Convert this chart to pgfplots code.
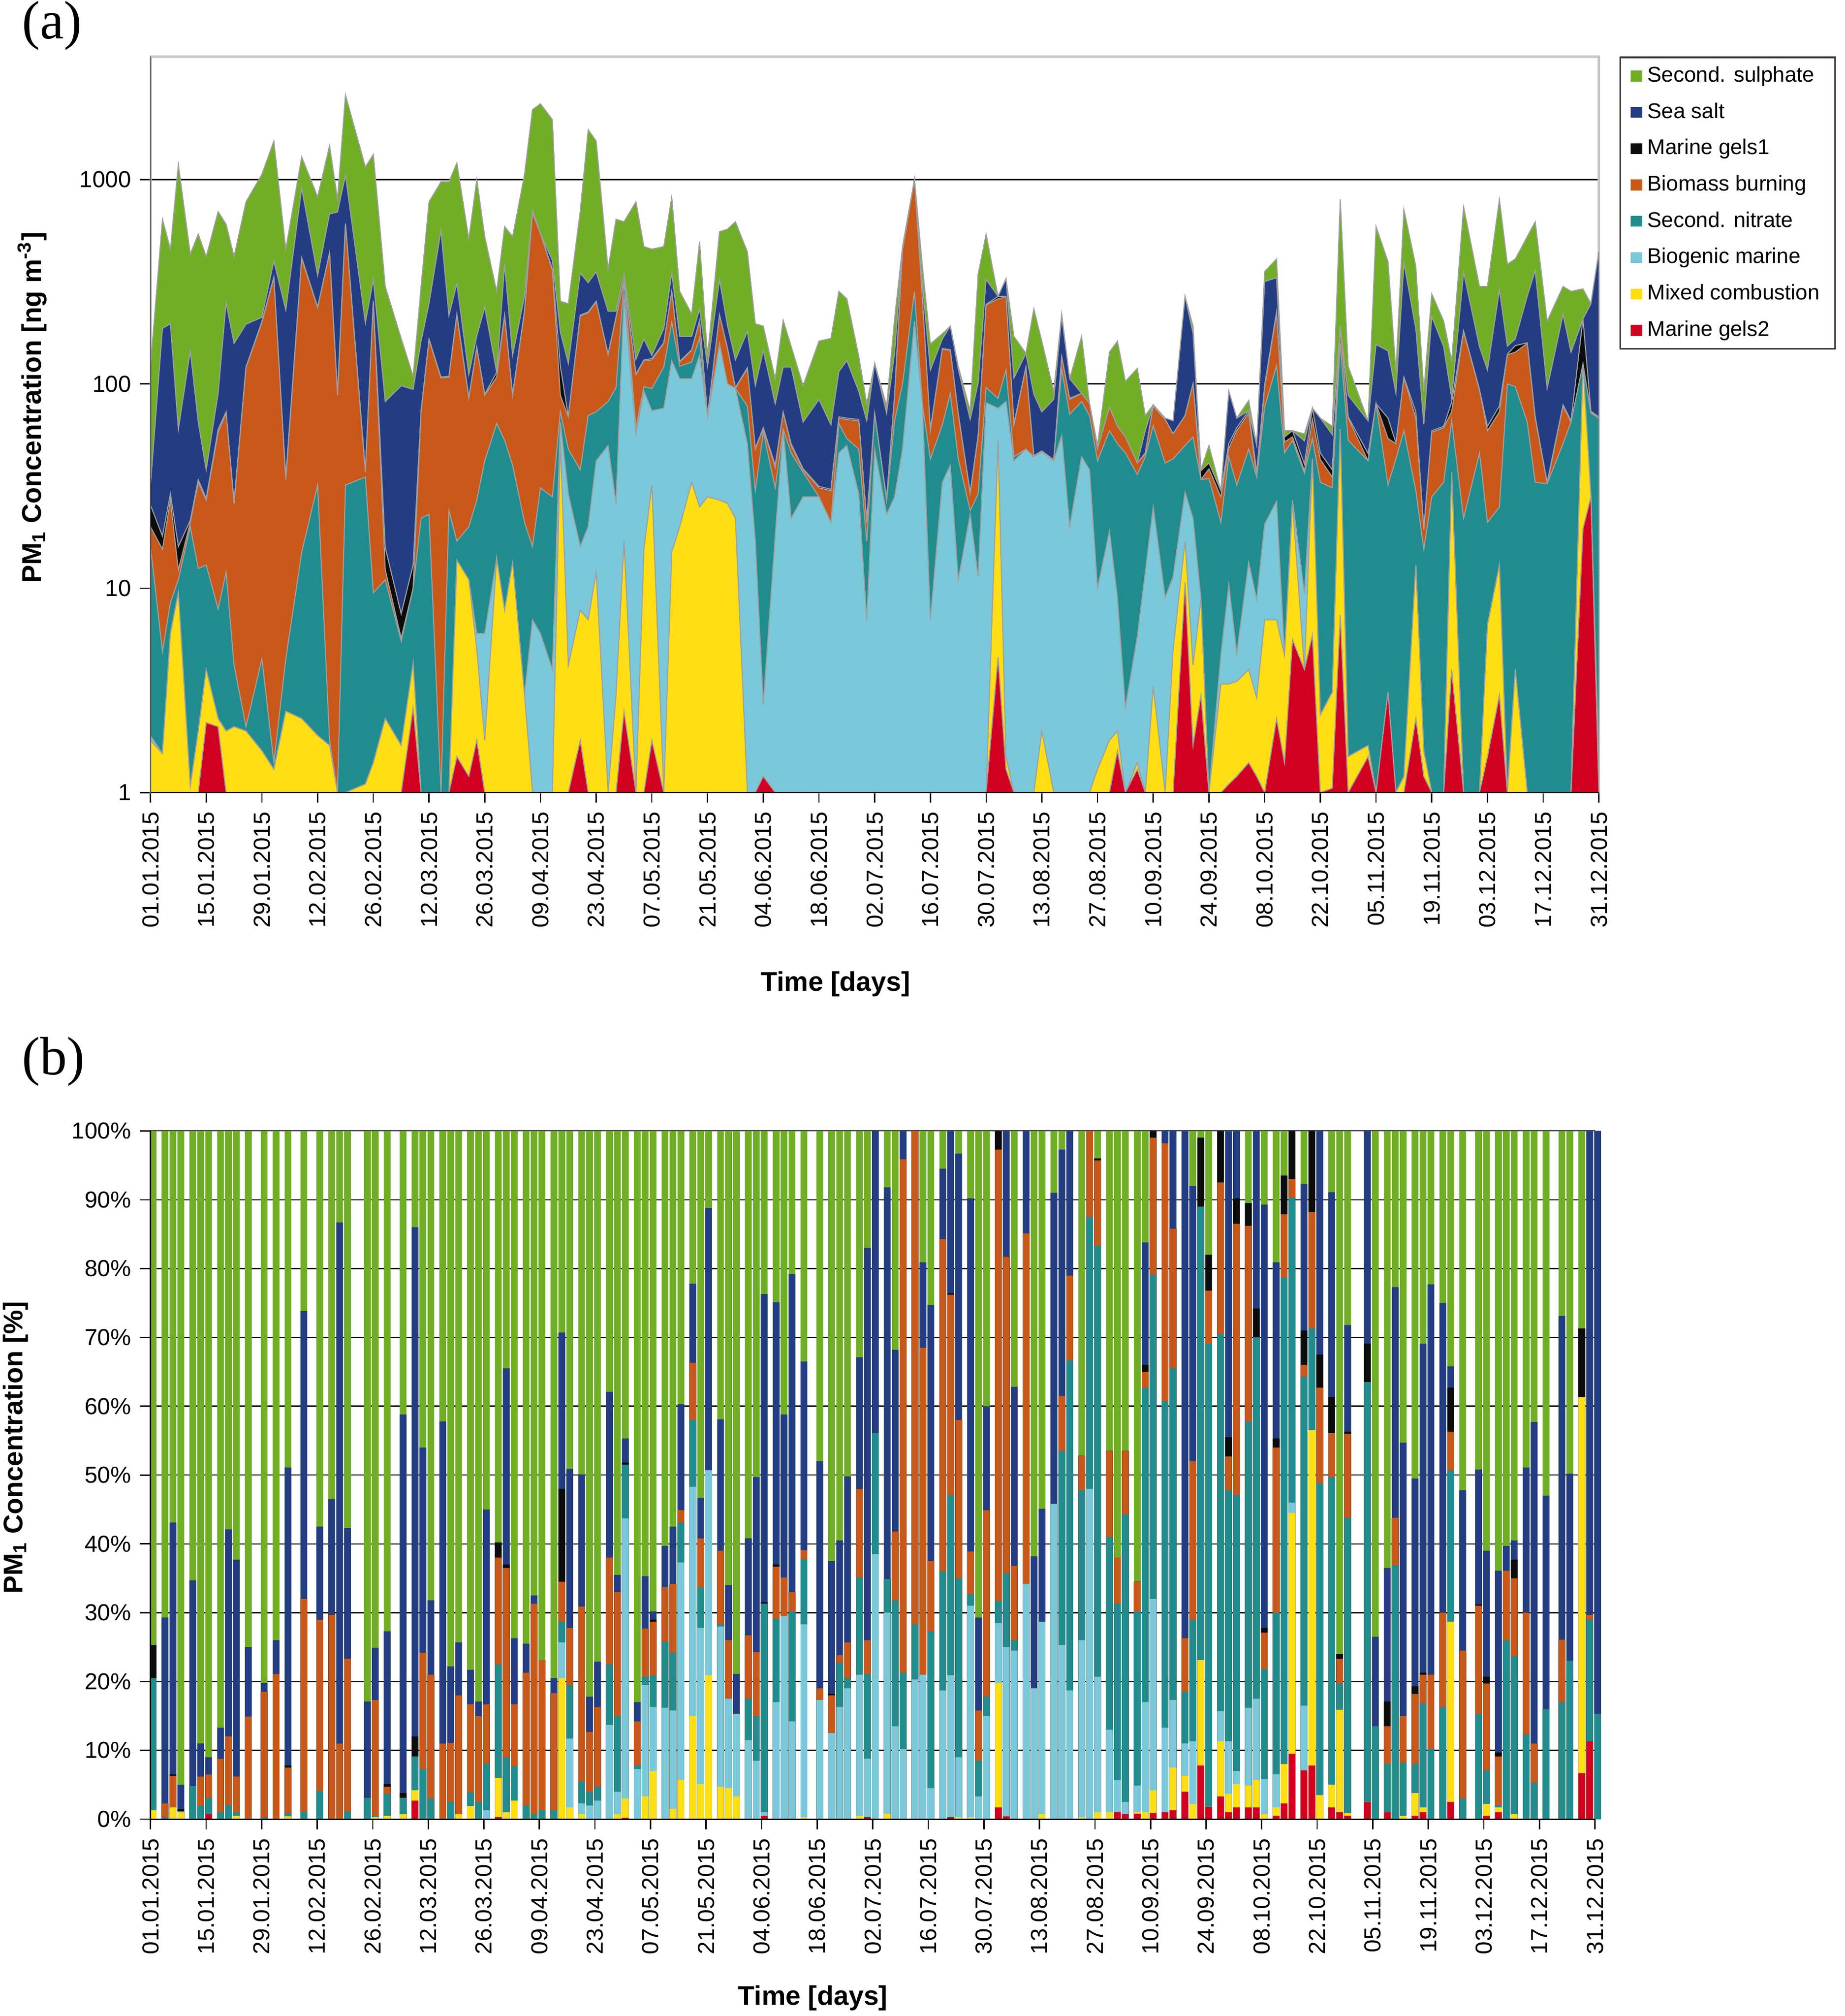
\documentclass[border=0pt]{standalone}
\usepackage{pgfplots}
\pgfplotsset{compat=1.18}
\usepackage{pgfplotstable}
\usepackage{fontspec}
\setmainfont{Liberation Sans}
\newfontfamily\serifpanel{Liberation Serif}

\definecolor{cSul}{RGB}{112,174,38}
\definecolor{cSea}{RGB}{35,60,130}
\definecolor{cGelA}{RGB}{12,12,12}
\definecolor{cBio}{RGB}{200,88,26}
\definecolor{cNit}{RGB}{32,140,142}
\definecolor{cMar}{RGB}{122,200,218}
\definecolor{cMix}{RGB}{255,222,20}
\definecolor{cGelB}{RGB}{210,0,32}

% (a) cumulative boundaries in ng m^-3 (bottom to top)
\pgfplotstableread{
d R Y L T O K B G
0 1 1.8 1.9 16 20 25.5 32 122
3 1 1.55 1.55 4.9 15.5 18 187 640
5 1 6 6 8.5 27 29 197 457
7 1 9.5 9.5 11 12.3 16 60 1186
10 1 1.07 1.07 20 21 21.5 145 432
12 1 2 2 12.5 33 34 65 541
14 2.2 4 4 13 27 27.5 38 420
17 2.1 2.3 2.3 7.9 58 60 90 697
19 1 2 2 12 72 73 250 605
21 1 2.1 2.1 4.2 26 26.5 158 420
24 1 2 2 2.1 120 121 196 779
28 1 1.6 1.6 4.5 200 202 212 1061
31 1 1.3 1.3 1.4 330 333 400 1545
34 1 2.5 2.5 4.5 34 35 230 457
38 1 2.3 2.3 15 410 415 910 1291
42 1 1.9 1.9 32 236 238 340 824
45 1 1.7 1.7 1.8 434 438 680 1468
47 1 1 1 1 88 90 694 801
49 1 1 1 32 600 610 1050 2600
54 1 1.1 1.1 35 37 38 199 1153
56 1 1.4 1.4 9.5 250 255 325 1327
59 1 2.3 2.3 11 12.3 15.8 82 300
63 1 1.7 1.7 5.5 5.7 7.5 98 167
66 2.6 4.3 4.3 10 10 13 94 109
68 1 1 1 22 73 74 162 300
70 1 1 1 23 164 166 248 779
73 1 1 1 1 107 108 564 975
75 1 1 1 24 108 109 216 975
77 1.5 13.7 13.7 17 217 220 310 1207
80 1.2 11 11 20 85 86 111 512
82 1.8 5 6 27 150 151 172 1003
84 1 1.8 6 42 88 89 237 526
87 1 14 14 64 108 114 114 284
89 1 7.8 7.8 53 215 217 386 589
91 1 13.3 13.3 40 88 89 138 526
94 1 3 3 21 226 228 270 1061
96 1 1 7 16 688 692 714 2198
98 1 1 6 31 543 545 545 2350
101 1 1 4 28 360 365 403 1967
103 1 52 65 73 88 122 180 254
105 1 4.2 29 48 69 69.5 126 247
108 1.8 7.8 16 38 215 217 349 700
110 1 7 20 70 223 225 313 1757
112 1 12 42 73 252 254 354 1545
115 1 1 50 82 139 140 227 365
117 1 3 26 96 211 213 227 640
119 2.5 17 272 320 320 322 344 622
122 1 1 57 61 111 112 132 779
124 1 15.5 92 97 130 131 166 470
126 1.8 32 74 95 131 133 138 457
129 1 1 76 121 158 159 187 470
131 1 15 130 200 282 284 350 824
133 1 20 106 122 128 129 171 284
136 1 33 106 128 146 147 171 220
138 1 25 138 168 203 204 233 498
140 1 28 69 69 69 70 122 137
143 1 27 156 157 217 218 323 556
145 1 26 100 100 149 150 194 572
147 1 22 95 95 95 96 131 622
150 1 1 51 78 119 120 181 444
152 1 1 17 30 48 48.5 98 197
154 1.2 1.2 2.7 58 60 61 146 192
157 1 1 18 31 39 40 80 106
159 1 1 60 60 72 73 121 205
161 1 1 22 46 50 51 121 153
164 1 1 28 37 38 38.5 65 98
168 1 1 28 28 31 31.5 84 162
171 1 1 21 21 30 30.5 63 167
173 1 1 46 64 68 69 115 284
175 1 1 50 54 67 68 130 261
178 1 1 29 48 66 67 92 137
180 1 1 7 17 21 21.5 66 80
182 1 1 48 71 71 71.5 126 126
185 1 1 23 27 27 27.5 72 78
187 1 1 28 66 87 88 142 208
189 1 1 48 100 451 455 470 470
192 1 1 203 283 1000 1000 1000 1000
194 1 1 79 79 258 260 304 376
196 1 1 7 43 59 60 117 157
199 1 1 33 63 148 149 166 176
201 1 1 40 90 146 147 192 192
203 1 1 11 43 71 72 118 122
206 1 1 23 24 29 29.5 67 74
208 1 1 11.4 29 55 56 101 345
210 1 1 81 96 243 245 325 541
213 4.6 53 76 85 261 268 268 268
215 1.3 1.5 82 117 267 268 327 327
217 1 1 42 44 63 64 107 171
220 1 1 48 48 120 121 141 141
222 1 1 44 44 44 44.5 89 233
224 1 2 46.5 46.5 46.5 47 73 162
227 1 1 42 42 42 42.5 84 92
229 1 1 56 118 135 136 214 220
231 1 1 20 71 84 85 106 106
234 1 1 44 82 90 90 90 171
236 1 1 38 70 80 80 80 80
238 1 1.3 10 42 48 48 48 50
241 1 1.8 19 59 77 77 77 143
243 1.6 2 9 51 62 62 62 162
245 1 1 2.6 46 55 55 55 103
248 1.3 1.4 5.8 36 41 41 41 119
250 1 1 12 44 45.5 46 59 70
252 1 3.3 25 62.5 78 79 79 79
255 1 1 9 41 67 67 68 68
257 1 5 11.4 43 57 57 66 66
260 10.7 17 29.5 50 70 70 268 268
262 1.7 4.2 22 55 100 100 177 192
264 3 8.8 8.8 34 34 37.6 37.6 38
266 1 1 1 34.5 38.4 41 41 50
269 1 3.4 4.7 21 28 30 30 30
271 1.1 3.4 10.4 44 48.5 51 92 92
273 1.2 3.5 4.8 32 59 61 68 68
276 1.4 4 13.4 48 72 74 74 83
278 1.2 2.9 8.8 35 35 37 50 50
280 1 7 20.6 77 96 99 317 355
283 2.3 7 26.6 123 221 226 331 409
285 1.4 4.7 4.7 46 52 55 55 59
287 5.6 26 27 53 55 59 59 59
290 4 4 9.4 36.6 37.6 40.5 52.6 57
292 5.9 43 43 54 67 76 76 76
294 1 2.4 2.4 33 42.6 45.9 68 68
297 1.05 3.1 3.1 31 35 38 56.5 62
299 7.4 60 60 158 187 192 192 801
301 1 1.5 1.5 53 68 69 88 122
306 1.5 1.7 1.7 42 42 45.6 66 66
308 1 1 1 80 80 80 156 589
311 3.1 3.1 3.1 32 54 68 145 397
313 1 1 1 43 51 51.5 90 116
315 1 1.2 1.2 59 107 108 392 716
318 2.3 13 13 30 68 73 186 376
320 1.2 1.6 1.6 15.5 19.3 19.6 63.6 92
322 1 1 1 28 58 59 214 276
325 1 1 1 33 61 62 152 203
327 4 37 37 66 73 81.5 85.5 130
330 1 1 1 22 180 182 352 736
334 1 1 1 46 93 94 152 300
336 1.5 6.6 6.6 21 59 62 117 300
339 3 13 13 25 73 78 289 801
341 1 1 1 100 139 140 153 386
343 1 4 4 97 143 154 166 409
346 1 1 1 65 158 159 269 526
348 1 1 1 33 68 69 359 622
351 1 1 1 32.5 32.5 33 95 203
355 1 1 1 51 78 79 219 300
357 1 1 1 65 65 66 143 284
360 19.6 125 125 125 125 208 208 292
362 28 28 28 72 73 73.5 247 247
364 1 1.4 1.4 68 68 69 444 444
}\dataA

% (b) cumulative percentages (bottom to top)
\pgfplotstableread{
d r y l t o k b g
0 0 1.3 1.3 20.5 20.5 25.3 25.3 100
3 0 0 0 0.3 2.3 2.3 29.3 100
5 0 1.7 1.7 1.7 6.3 6.5 43.1 100
7 0 1 1 1.2 1.2 1.5 5 100
10 0 0 0 4.8 4.8 4.8 34.7 100
12 0 0 0 2 6.2 6.2 11 100
14 0.7 0.7 0.7 3.1 6.5 6.5 9 100
17 0 0 0 1 8.8 8.8 13.3 100
19 0 0 0 2 12 12 42.1 100
21 0 0.5 0.5 1 6.2 6.2 37.7 100
24 0 0 0 0 14.9 14.9 25 100
28 0 0 0 0.3 18.5 18.5 19.8 100
31 0 0 0 0 21.1 21.1 26 100
34 0 0.4 0.4 0.9 7.5 7.8 51.1 100
38 0 0 0 1.1 32 32 73.8 100
42 0 0 0 4.1 29 29 42.5 100
45 0 0 0 0 29.7 29.7 46.5 100
47 0 0 0 0 11 11 86.7 100
49 0 0 0 1.1 23.3 23.3 42.3 100
54 0 0 0 3.1 3.1 3.1 17.1 100
56 0 0.3 0.3 0.5 17.3 17.3 24.9 100
59 0 0.5 0.5 3.7 4.7 5.1 27.3 100
63 0 0.7 0.7 3.1 3.1 3.8 58.8 100
66 2.7 4.2 4.2 9.1 9.1 12 86 100
68 0 0 0 7.3 24.2 24.2 54 100
70 0 0 0 3 21 21 31.8 100
73 0 0 0 0 11 11 57.8 100
75 0 0 0 2.5 11.1 11.1 22.2 100
77 0 0.7 0.7 0.7 18 18 25.7 100
80 0 1.9 1.9 3.9 16.7 16.7 21.7 100
82 0 0 0 2.5 15 15 17.1 100
84 0 0 1.3 8 16.7 16.7 45 100
87 0.3 6 6 22.5 38 40.2 40.2 100
89 0 1 1 9 36.5 37 65.5 100
91 0 2.7 2.7 7.7 16.7 16.7 26.3 100
94 0 0 0 2 21.3 21.3 25.5 100
96 0 0 0 0.7 31.3 31.3 32.5 100
98 0 0 0 1.3 23.1 23.1 23.1 100
101 0 0 0 1.3 18.3 18.3 20.5 100
103 0 20.5 25.7 28.7 34.5 48 70.7 100
105 0 1.7 11.7 19.5 27.8 27.8 50.9 100
108 0 0.7 2.3 5.5 30.9 30.9 50.1 100
110 0 0 2 4 12.7 12.7 17.8 100
112 0 0 2.7 4.7 16.3 16.3 22.9 100
115 0 0 13.7 22.5 38 38 62.1 100
117 0 0.7 4 15 33 33 35.5 100
119 0.2 3 43.7 51.5 51.5 51.8 55.3 100
122 0 0 7.3 7.8 14.2 14.2 17 100
124 0 3.3 19.5 20.7 27.7 27.7 35.3 100
126 0 7 16.3 20.9 28.7 29 30.2 100
129 0 0 16.2 25.8 33.7 33.7 39.7 100
131 0 1.5 15.8 24.2 34.2 34.2 42.5 100
133 0 5.7 37.3 43.1 44.9 44.9 60.3 100
136 0 15 48.3 58 66.3 66.3 77.8 100
138 0 5.1 27.8 33.7 40.8 40.8 46.7 100
140 0 20.9 50.7 50.7 50.7 50.7 88.8 100
143 0 4.7 28 28.3 39 39 58.1 100
145 0 4.5 17.5 17.5 26 26 34 100
147 0 3.3 15.3 15.3 15.3 15.3 21.1 100
150 0 0 11.5 17.5 26.7 26.7 40.8 100
152 0 0 8.5 15 24.3 24.3 49.7 100
154 0.5 0.5 1 31.3 31.3 31.5 76.3 100
157 0 0 17 29.1 36.7 37 75.1 100
159 0 0 29.5 29.5 35.1 35.1 58.8 100
161 0 0 14.2 30.2 33 33 79.2 100
164 0 0.3 28.3 37.8 39.1 39.1 66.5 100
168 0 0 17.3 17.3 19 19 52 100
171 0 0 12.5 12.5 18 18.2 37.5 100
173 0 0 16.3 22.7 23.8 23.8 40.5 100
175 0 0 19 20.5 25.7 25.7 49.8 100
178 0 0.5 21 35.1 48 48 67.1 100
180 0.3 0.3 8.8 21.1 26 26 83 100
182 0 0 38.5 56.1 56.1 56.1 100 100
185 0 0.8 30 34.9 34.9 34.9 91.8 100
187 0 0 13.5 31.8 41.8 41.8 68.2 100
189 0 0 10.2 21.3 95.9 95.9 100 100
192 0 0 20.3 28.3 100 100 100 100
194 0 0 21 21 68.5 68.5 80.9 100
196 0 0 4.5 27.3 37.5 37.5 74.7 100
199 0 0 18.7 36 84.3 84.3 94.5 100
201 0.3 0.3 20.9 47.1 76.2 76.4 100 100
203 0 0.3 9 35 58 58 96.7 100
206 0 0.3 31 32.7 38.9 38.9 90.2 100
208 0 0 3.3 8.5 15.8 15.8 29.3 100
210 0 0 15 17.8 44.9 44.9 60 100
213 1.7 19.8 28.5 31.7 97.3 100 100 100
215 0.4 0.4 25 35.7 81.7 81.7 100 100
217 0 0 24.5 26 36.8 36.8 62.8 100
220 0 0 34.2 34.2 85.1 85.1 100 100
222 0 0 19 19 19 19 38.2 100
224 0 0.7 28.7 28.7 28.7 28.7 45.1 100
227 0 0 45.8 45.8 45.8 45.8 91 100
229 0 0 25.3 53.5 61.5 61.5 97.3 100
231 0 0 18.7 66.7 79 79 100 100
234 0 0.3 26 47.8 52.8 52.8 52.8 100
236 0 0 48 87.5 100 100 100 100
238 0 1 20.7 83.3 95.7 96 96 100
241 0 1 13 41 53.5 53.5 53.5 100
243 1 1 5.7 31.3 38 38 38 100
245 0.7 0.7 2.5 44.3 53.5 53.5 53.5 100
248 0.8 1 4.9 30.2 34.5 34.5 34.5 100
250 0 1 17 62.7 65 66 83.8 100
252 0.9 4.2 32 79.1 99 100 100 100
255 1 1 13.3 60.7 98.2 98.2 100 100
257 1.3 7.5 17.3 65.5 85.8 85.8 100 100
260 4 6.3 11 18.5 26.3 26.3 100 100
262 0 2.2 11.3 28.9 52 52 92 100
264 7.8 23.1 23.1 89 89 99 99 100
266 1.8 1.8 1.8 69.1 76.8 82 82 100
269 3.3 11.3 15.7 70.5 92.5 100 100 100
271 1 3.7 11.3 47.8 52.7 55.5 100 100
273 1.7 5.1 7 47.1 86.5 90.2 100 100
276 1.7 4.9 16.2 57.8 86.2 89.5 89.5 100
278 1.7 5.7 17.5 70 70 74.2 100 100
280 0 0.7 5.8 21.8 27.1 27.8 89.3 100
283 0.5 1.7 6.5 30 54 55.3 80.9 100
285 2.3 8 8 78.7 87.9 93.5 93.5 100
287 9.5 44.5 46 90.3 93 100 100 100
290 7.1 7.1 16.5 64.3 66 71 92.3 100
292 7.8 56.5 56.5 71.3 88.2 100 100 100
294 0 3.5 3.5 48.8 62.7 67.5 100 100
297 1.7 5 5 49.7 56.1 61.3 91.1 100
299 1 15.9 15.9 19.7 23.3 24 24 100
301 0.5 0.9 0.9 43.8 56 56.3 71.8 100
306 2.5 2.5 2.5 63.5 63.5 69.1 100 100
308 0 0 0 13.5 13.5 13.5 26.5 100
311 1 1 1 8 13.5 17.1 36.5 100
313 0 0 0 36.9 43.8 43.8 77.3 100
315 0 0.5 0.5 8.2 15 15 54.7 100
318 0.5 3.8 3.8 8 18.2 19.3 49.5 100
320 1 1.7 1.7 16.9 21 21.3 69.1 100
322 0 0 0 10.2 21 21 77.7 100
325 0 0 0 16.3 30 30 75 100
327 2.5 28.7 28.7 50.7 56.3 62.7 65.8 100
330 0 0 0 3 24.5 24.5 47.8 100
334 0 0 0 15.3 31 31.2 50.8 100
336 0.5 2.2 2.2 7.1 19.7 20.7 39 100
339 1 1.7 1.7 2 9.1 9.7 36.1 100
341 0 0 0 26 36.1 36.1 39.7 100
343 0 0.7 0.7 23.7 35 37.7 40.5 100
346 0 0 0 12.3 30 30 51.1 100
348 0 0 0 5.3 11 11 57.7 100
351 0 0 0 16 16 16 47 100
355 0 0 0 17 26.1 26.1 73.1 100
357 0 0 0 23 23 23 50.2 100
360 6.7 61.3 61.3 61.3 61.3 71.3 71.3 100
362 11.3 11.3 11.3 29 29.7 29.7 100 100
364 0 0 0 15.3 15.3 15.3 100 100
}\dataB

\newcommand{\datelabels}{01.01.2015,15.01.2015,29.01.2015,12.02.2015,26.02.2015,12.03.2015,26.03.2015,09.04.2015,23.04.2015,07.05.2015,21.05.2015,04.06.2015,18.06.2015,02.07.2015,16.07.2015,30.07.2015,13.08.2015,27.08.2015,10.09.2015,24.09.2015,08.10.2015,22.10.2015,05.11.2015,19.11.2015,03.12.2015,17.12.2015,31.12.2015}

\begin{document}
\begin{tikzpicture}
\path[use as bounding box] (0,0) rectangle (717pt,-783.5pt);

% ---------------- panel (a) ----------------
\begin{axis}[
  at={(58.5pt,-308pt)}, anchor=south west,
  scale only axis, width=563pt, height=286pt,
  xmin=0, xmax=364, ymode=log, ymin=1, ymax=4000,
  ytick={1,10,100,1000}, yticklabels={1,10,100,1000},
  yminorticks=false,
  xtick pos=left, ytick pos=left,
  xtick={0,14,...,364}, xticklabels/.expand once={\datelabels},
  xticklabel style={rotate=90, anchor=east},
  tick align=outside, major tick length=4pt,
  tick style={black, line width=0.5pt},
  ymajorgrids, major grid style={black, line width=0.5pt},
  axis line style={gray!45, line width=0.8pt},
  tick label style={font=\fontsize{9}{10}\selectfont},
  xlabel={Time [days]},
  ylabel={PM\textsubscript{1} Concentration [ng m\textsuperscript{-3}]},
  label style={font=\bfseries\fontsize{10.5}{12}\selectfont},
  xlabel style={at={(rel axis cs:0.473,-0.2605)}, anchor=center},
  ylabel style={at={(rel axis cs:-0.0817,0.523)}, anchor=center},
  every axis plot/.append style={draw=gray!75, line width=0.4pt},
  legend cell align=left,
  legend image code/.code={\fill[#1, draw=none] (0pt,-2.1pt) rectangle (4.6pt,2.1pt);},
  legend style={at={(1,1)}, anchor=north west, xshift=8pt, draw=black!80, line width=0.6pt,
    font=\fontsize{8.3}{10}\selectfont, row sep=2.6pt, inner xsep=4pt, inner ysep=1.5pt},
]
\addplot[fill=cSul] table[x=d,y=G]{\dataA} \closedcycle;
\addplot[fill=cSea] table[x=d,y=B]{\dataA} \closedcycle;
\addplot[fill=cGelA] table[x=d,y=K]{\dataA} \closedcycle;
\addplot[fill=cBio] table[x=d,y=O]{\dataA} \closedcycle;
\addplot[fill=cNit] table[x=d,y=T]{\dataA} \closedcycle;
\addplot[fill=cMar] table[x=d,y=L]{\dataA} \closedcycle;
\addplot[fill=cMix] table[x=d,y=Y]{\dataA} \closedcycle;
\addplot[fill=cGelB] table[x=d,y=R]{\dataA} \closedcycle;
\legend{Second. sulphate,Sea salt,Marine gels1,Biomass burning,Second. nitrate,Biogenic marine,Mixed combustion,Marine gels2}
\draw[black, line width=0.6pt] (rel axis cs:0,1) -- (rel axis cs:0,0) -- (rel axis cs:1,0);
\end{axis}

% ---------------- panel (b) ----------------
\begin{axis}[
  at={(58.5pt,-707pt)}, anchor=south west,
  scale only axis, width=561.5pt, height=267.5pt,
  xmin=0, xmax=364, ymin=0, ymax=100,
  clip=false,
  axis x line*=bottom, axis y line*=left,
  ytick={0,10,...,100},
  yticklabels={0\%,10\%,20\%,30\%,40\%,50\%,60\%,70\%,80\%,90\%,100\%},
  xtick={0,14,...,364}, xticklabels/.expand once={\datelabels},
  xticklabel style={rotate=90, anchor=east},
  tick align=outside, major tick length=4pt,
  tick style={black, line width=0.5pt},
  ymajorgrids, major grid style={black, line width=0.45pt},
  axis line style={black, line width=0.6pt},
  tick label style={font=\fontsize{9}{10}\selectfont},
  xlabel={Time [days]},
  ylabel={PM\textsubscript{1} Concentration [\%]},
  label style={font=\bfseries\fontsize{10.5}{12}\selectfont},
  xlabel style={at={(rel axis cs:0.4586,-0.26)}, anchor=center},
  ylabel style={at={(rel axis cs:-0.0935,0.54)}, anchor=center},
  every axis plot/.append style={ybar, bar width=1.7, bar shift=0.65, draw=none},
]
\addplot[fill=cSul] table[x=d,y=g]{\dataB};
\addplot[fill=cSea] table[x=d,y=b]{\dataB};
\addplot[fill=cGelA] table[x=d,y=k]{\dataB};
\addplot[fill=cBio] table[x=d,y=o]{\dataB};
\addplot[fill=cNit] table[x=d,y=t]{\dataB};
\addplot[fill=cMar] table[x=d,y=l]{\dataB};
\addplot[fill=cMix] table[x=d,y=y]{\dataB};
\addplot[fill=cGelB] table[x=d,y=r]{\dataB};
\draw[black, line width=0.6pt] (rel axis cs:0,1) -- (rel axis cs:0,0) -- (rel axis cs:1,0);
\end{axis}

\node[anchor=west, font=\serifpanel\fontsize{21}{24}\selectfont] at (5pt,-10pt) {(a)};
\node[anchor=west, font=\serifpanel\fontsize{21}{24}\selectfont] at (5pt,-412.5pt) {(b)};
\end{tikzpicture}
\end{document}
